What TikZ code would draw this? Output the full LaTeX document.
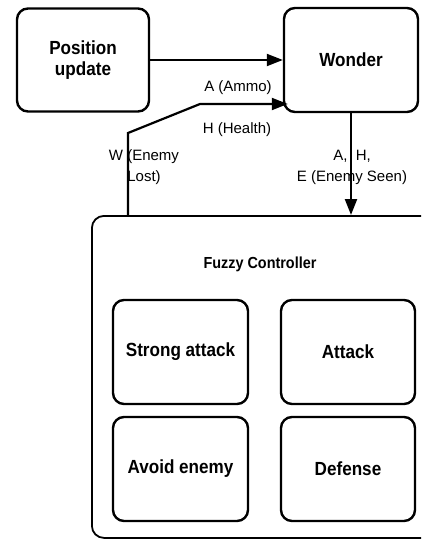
\documentclass[tikz,border=0pt]{standalone}
\usepackage{fontspec}
\setmainfont{Liberation Sans}
\newfontfamily\boxfont[FakeStretch=0.9]{Liberation Sans}
\usetikzlibrary{arrows.meta}
\begin{document}
\begin{tikzpicture}[x=1pt,y=-1pt,
  blk/.style={draw, line width=2.4pt, rounded corners=11pt, inner sep=0pt, align=center,
    font={\boxfont\bfseries\fontsize{19}{21}\selectfont}},
  outerbox/.style={draw, line width=1.8pt, rounded corners=12pt, inner sep=0pt},
  lbl/.style={inner sep=0pt, align=center, font={\fontsize{15}{21}\selectfont}},
  title/.style={inner sep=0pt, font={\boxfont\bfseries\fontsize{16}{19}\selectfont}},
  arr/.style={line width=2.2pt, -{Triangle[length=16pt,width=12pt]}}]
\useasboundingbox (0,0) rectangle (424,540);
\clip (0,0) rectangle (421,540);
% top boxes
\node[blk, minimum width=132pt, minimum height=103pt] (pos) at (83,60) {Position\\update};
\node[blk, minimum width=134pt, minimum height=104pt] (wonder) at (351,60) {Wonder};
% fuzzy controller
\node[outerbox, minimum width=350pt, minimum height=322pt, anchor=north west] (fuzzy) at (91,215) {};
\node[title, anchor=base] (fc) at (260,268) {Fuzzy Controller};
\node[blk, minimum width=135pt, minimum height=104pt] (sa) at (180.5,352) {Strong attack};
\node[blk, minimum width=134pt, minimum height=104pt] (at) at (348,352) {Attack};
\node[blk, minimum width=135pt, minimum height=104pt] (ae) at (180.5,469) {Avoid enemy};
\node[blk, minimum width=134pt, minimum height=104pt] (df) at (348,469) {Defense};
% connectors
\draw[arr] (pos.east) -- (wonder.west);
\coordinate (wk1) at (128,133);
\coordinate (wk2) at (200,104);
\draw[arr] (fuzzy.north -| wk1) -- (wk1) -- (wk2) -- ([xshift=5pt]wonder.west |- wk2);
\draw[arr] (wonder.south) -- (wonder.south |- fuzzy.north);
% labels
\node[lbl, anchor=base] (la) at (238,92) {A (Ammo)};
\node[lbl, anchor=base] (lh) at (237,134) {H (Health)};
\node[lbl] (lw) at (144,167) {W (Enemy\\Lost)};
\node[lbl] (le) at (352,167) {A,~~H,\\E (Enemy Seen)};
\end{tikzpicture}
\end{document}
